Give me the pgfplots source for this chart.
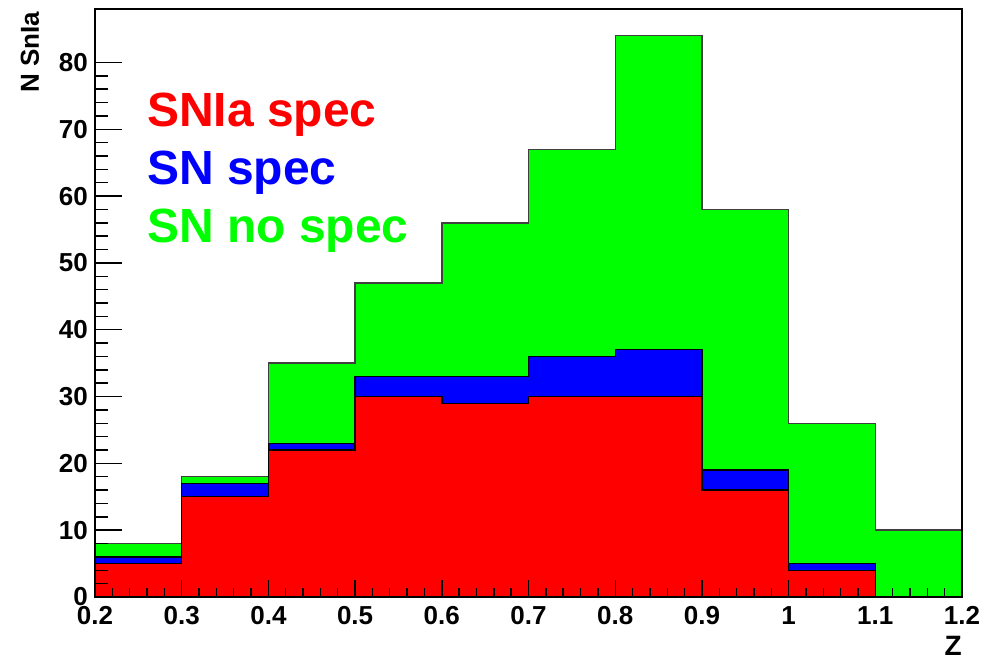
\documentclass[border=0pt]{standalone}
\usepackage{fontspec}
\setmainfont{Liberation Sans}
\usepackage{pgfplots}
\pgfplotsset{compat=1.18}
\begin{document}
\begin{tikzpicture}[x=1pt,y=1pt]
\useasboundingbox (-95pt,-62pt) rectangle (897pt,597pt);
\begin{axis}[
  scale only axis, width=867pt, height=588pt,
  xmin=0.2, xmax=1.2, ymin=0, ymax=88,
  axis on top,
  axis line style={line width=1.6pt, black},
  xtick={0.2,0.3,0.4,0.5,0.6,0.7,0.8,0.9,1.0,1.1,1.2},
  xticklabels={0.2,0.3,0.4,0.5,0.6,0.7,0.8,0.9,1,1.1,1.2},
  ytick={0,10,20,30,40,50,60,70,80},
  yticklabels={0,10,20,30,40,50,60,70,80},
  minor x tick num=4, minor y tick num=4,
  tick align=inside, xtick pos=bottom, ytick pos=left,
  xtick style={line width=1.4pt, black, /pgfplots/major tick length=17pt, /pgfplots/minor tick length=9pt},
  ytick style={line width=1.4pt, black, /pgfplots/major tick length=27pt, /pgfplots/minor tick length=13pt},
  xticklabel style={font=\bfseries\fontsize{26}{26}\selectfont, anchor=north, inner sep=0pt, yshift=-9pt},
  yticklabel style={font=\bfseries\fontsize{26}{26}\selectfont, anchor=east, inner sep=0pt, xshift=-7pt},
]
\addplot[const plot, fill={rgb,255:red,0;green,255;blue,0}, draw=black!75, line width=1.4pt] coordinates {
(0.2,8) (0.3,18) (0.4,35) (0.5,47) (0.6,56) (0.7,67) (0.8,84) (0.9,58) (1.0,26) (1.1,10) (1.2,10)} \closedcycle;
\addplot[const plot, fill={rgb,255:red,0;green,0;blue,255}, draw=black, line width=1.4pt] coordinates {
(0.2,6) (0.3,17) (0.4,23) (0.5,33) (0.6,33) (0.7,36) (0.8,37) (0.9,19) (1.0,5) (1.1,5)} \closedcycle;
\addplot[const plot, fill={rgb,255:red,255;green,0;blue,0}, draw=black, line width=1.4pt] coordinates {
(0.2,5) (0.3,15) (0.4,22) (0.5,30) (0.6,29) (0.7,30) (0.8,30) (0.9,16) (1.0,4) (1.1,4)} \closedcycle;
\end{axis}
\node[anchor=base west, inner sep=0pt, font=\bfseries\fontsize{48}{48}\selectfont, text={rgb,255:red,255;green,0;blue,0}] at (52pt,470pt) {SNIa spec};
\node[anchor=base west, inner sep=0pt, font=\bfseries\fontsize{48}{48}\selectfont, text={rgb,255:red,0;green,0;blue,255}] at (52pt,412pt) {SN spec};
\node[anchor=base west, inner sep=0pt, font=\bfseries\fontsize{48}{48}\selectfont, text={rgb,255:red,0;green,255;blue,0}] at (52pt,354pt) {SN no spec};
\node[rotate=90, anchor=base west, inner sep=0pt, font=\bfseries\fontsize{26}{26}\selectfont] at (-56pt,504pt) {N SnIa};
\node[anchor=base east, inner sep=0pt, font=\bfseries\fontsize{28}{28}\selectfont] at (867pt,-58pt) {Z};
\end{tikzpicture}
\end{document}
